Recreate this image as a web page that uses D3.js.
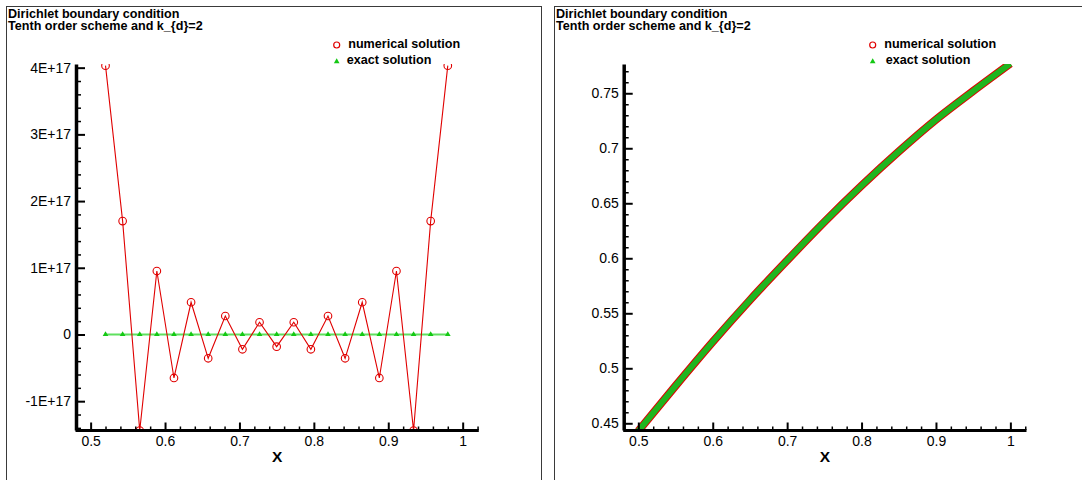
<!DOCTYPE html>
<html>
<head>
<meta charset="utf-8">
<script src="https://cdn.jsdelivr.net/npm/d3@7"></script>
<style>
  html, body { margin: 0; padding: 0; background: #fff; }
  svg { display: block; font-family: "Liberation Sans", Arial, sans-serif; }
</style>
</head>
<body>
<svg id="chart" width="1082" height="480"></svg>
<script>
// Grid points of the coarse run (left panel)
const gridX = [0.52, 0.543, 0.566, 0.589, 0.612, 0.635, 0.658, 0.681, 0.704, 0.727, 0.75,
               0.773, 0.796, 0.819, 0.842, 0.865, 0.888, 0.911, 0.934, 0.957, 0.98];
// Numerical solution on the coarse grid
const numericalCoarse = [4.03e17, 1.70e17, -1.44e17, 0.952e17, -0.652e17, 0.483e17, -0.357e17,
                         0.277e17, -0.222e17, 0.183e17, -0.183e17, 0.183e17, -0.222e17, 0.277e17,
                         -0.357e17, 0.483e17, -0.652e17, 0.952e17, -1.44e17, 1.70e17, 4.03e17];
// Exact solution on the coarse grid
const exactCoarse = [0.459, 0.476, 0.495, 0.512, 0.530, 0.547, 0.564, 0.580, 0.597, 0.613, 0.629,
                     0.644, 0.659, 0.674, 0.688, 0.702, 0.716, 0.729, 0.742, 0.754, 0.766];

// Fine run (right panel)
const fineX = [0.50, 0.55, 0.60, 0.65, 0.70, 0.75, 0.80, 0.85, 0.90, 0.95, 1.00];
const numericalFine = [0.443, 0.484, 0.524, 0.562, 0.598, 0.633, 0.666, 0.697, 0.726, 0.752, 0.777];
const exactFine = [0.443, 0.484, 0.524, 0.562, 0.598, 0.633, 0.666, 0.697, 0.726, 0.752, 0.777];

// Tick values and labels
const xTicks = [0.5, 0.6, 0.7, 0.8, 0.9, 1.0];
const xTickLabels = ["0.5", "0.6", "0.7", "0.8", "0.9", "1"];
const yTicksLeft = [-1e17, 0, 1e17, 2e17, 3e17, 4e17];
const yTickLabelsLeft = ["-1E+17", "0", "1E+17", "2E+17", "3E+17", "4E+17"];
const yTicksRight = [0.45, 0.5, 0.55, 0.6, 0.65, 0.7, 0.75];
const yTickLabelsRight = ["0.45", "0.5", "0.55", "0.6", "0.65", "0.7", "0.75"];

const titleLines = ["Dirichlet boundary condition", "Tenth order scheme and k_{d}=2"];
const legendNames = ["numerical solution", "exact solution"];

const RED = "#e00000";
const GREEN_LINE = "#5fe05f";
const GREEN_MARK = "#14c814";
const GREEN_BAND = "#1fb51f";

const svg = d3.select("#chart");

function minorTicks(domain, step) {
  const out = [];
  const start = Math.ceil(domain[0] / step - 1e-9);
  const end = Math.floor(domain[1] / step + 1e-9);
  for (let i = start; i <= end; i++) out.push(+(i * step).toPrecision(12));
  return out;
}

function drawPanel(opts) {
  const g = svg.append("g");
  // panel frame
  g.append("rect")
    .attr("x", opts.frame[0] + 0.5).attr("y", opts.frame[1] + 0.5)
    .attr("width", opts.frame[2]).attr("height", opts.frame[3])
    .attr("fill", "none").attr("stroke", "#3a3a3a").attr("stroke-width", 1);

  // titles
  titleLines.forEach((t, i) => {
    g.append("text")
      .attr("x", opts.frame[0] + 2).attr("y", 18 + i * 12)
      .attr("font-size", 12.6).attr("font-weight", "bold").attr("fill", "#000")
      .text(t);
  });

  const x = d3.scaleLinear().domain([0.479, 1.021]).range([opts.left, opts.right]);
  const y = d3.scaleLinear().domain(opts.yDomain).range([430, 64]);

  const clipId = "clip" + opts.id;
  svg.append("defs").append("clipPath").attr("id", clipId)
    .append("rect").attr("x", opts.left).attr("y", 64)
    .attr("width", opts.right - opts.left).attr("height", 430 - 64);

  const plot = g.append("g").attr("clip-path", `url(#${clipId})`);
  opts.drawData(plot, x, y);

  // x axis: minor ticks
  const xMinor = minorTicks(x.domain(), 0.02).filter(v => !xTicks.some(t => Math.abs(t - v) < 1e-9));
  const gx = g.append("g").attr("transform", "translate(0,430)");
  gx.call(d3.axisBottom(x).tickValues(xMinor).tickSize(-3.5).tickSizeOuter(0).tickFormat(""))
    .call(a => a.selectAll(".tick line").attr("stroke", "#000").attr("stroke-width", 1.5))
    .call(a => a.select(".domain").remove());
  const gxMaj = g.append("g").attr("transform", "translate(0,430)");
  gxMaj.call(d3.axisBottom(x).tickValues(xTicks).tickSize(-7.5).tickSizeOuter(0).tickPadding(6.5)
      .tickFormat((d, i) => xTickLabels[i]))
    .call(a => a.selectAll(".tick line").attr("stroke", "#000").attr("stroke-width", 2))
    .call(a => a.selectAll(".tick text").attr("font-size", 14).attr("fill", "#000")
      .attr("font-family", "Liberation Sans, Arial, sans-serif"))
    .call(a => a.select(".domain").attr("stroke", "#000").attr("stroke-width", 3));

  // y axis
  const yMinor = minorTicks(y.domain(), opts.yMinorStep)
    .filter(v => !opts.yTicks.some(t => Math.abs(t - v) < opts.yMinorStep * 1e-6));
  const gy = g.append("g").attr("transform", `translate(${opts.left + 1},0)`);
  gy.call(d3.axisLeft(y).tickValues(yMinor).tickSize(-5).tickSizeOuter(0).tickFormat(""))
    .call(a => a.selectAll(".tick line").attr("stroke", "#000").attr("stroke-width", 1.5))
    .call(a => a.select(".domain").remove());
  const gyMaj = g.append("g").attr("transform", `translate(${opts.left + 1},0)`);
  gyMaj.call(d3.axisLeft(y).tickValues(opts.yTicks).tickSize(-9).tickSizeOuter(0).tickPadding(5)
      .tickFormat((d, i) => opts.yLabels[i]))
    .call(a => a.selectAll(".tick line").attr("stroke", "#000").attr("stroke-width", 2))
    .call(a => a.selectAll(".tick text").attr("font-size", 14).attr("fill", "#000")
      .attr("font-family", "Liberation Sans, Arial, sans-serif"))
    .call(a => a.select(".domain").attr("stroke", "#000").attr("stroke-width", 3.5));

  // x axis title
  g.append("text")
    .attr("x", (opts.left + opts.right) / 2 + 0.5).attr("y", 462)
    .attr("text-anchor", "middle").attr("font-size", 15.5).attr("font-weight", "bold")
    .text("X");

  // legend
  const lg = g.append("g");
  lg.append("circle").attr("cx", opts.legendX).attr("cy", 45)
    .attr("r", 3).attr("fill", "none").attr("stroke", RED).attr("stroke-width", 1.2);
  lg.append("text").attr("x", opts.legendX + 11.5).attr("y", 47.5)
    .attr("font-size", 12.6).attr("font-weight", "bold").text(legendNames[0]);
  lg.append("path").attr("d", d3.symbol(d3.symbolTriangle, 14)())
    .attr("transform", `translate(${opts.legendX},61.5)`).attr("fill", GREEN_MARK);
  lg.append("text").attr("x", opts.legendX + opts.legendGap2).attr("y", 63.5)
    .attr("font-size", 12.6).attr("font-weight", "bold").text(legendNames[1]);
}

// Left panel: coarse run
drawPanel({
  id: "L",
  frame: [6, 6, 535, 480],
  left: 75, right: 478.3,
  yDomain: [-1.432e17, 4.055e17],
  yTicks: yTicksLeft, yLabels: yTickLabelsLeft, yMinorStep: 2e16,
  legendX: 336.7, legendGap2: 10,
  drawData: (plot, x, y) => {
    const exactPts = gridX.map((v, i) => [v, exactCoarse[i]]);
    const numPts = gridX.map((v, i) => [v, numericalCoarse[i]]);
    const line = d3.line().x(d => x(d[0])).y(d => y(d[1]));
    plot.append("path").attr("d", line(exactPts)).attr("fill", "none")
      .attr("stroke", GREEN_LINE).attr("stroke-width", 2);
    plot.selectAll(".tri").data(exactPts).join("path")
      .attr("d", d3.symbol(d3.symbolTriangle, 14)())
      .attr("transform", d => `translate(${x(d[0])},${y(d[1])})`)
      .attr("fill", GREEN_MARK);
    plot.append("path").attr("d", line(numPts)).attr("fill", "none")
      .attr("stroke", RED).attr("stroke-width", 1.1);
    plot.selectAll(".circ").data(numPts).join("circle")
      .attr("cx", d => x(d[0])).attr("cy", d => y(d[1])).attr("r", 3.8)
      .attr("fill", "none").attr("stroke", RED).attr("stroke-width", 1.1);
  }
});

// Right panel: fine run
drawPanel({
  id: "R",
  frame: [554, 6, 540, 480],
  left: 622.7, right: 1026,
  yDomain: [0.4439, 0.7766],
  yTicks: yTicksRight, yLabels: yTickLabelsRight, yMinorStep: 0.01,
  legendX: 872.7, legendGap2: 13,
  drawData: (plot, x, y) => {
    const numPts = fineX.map((v, i) => [v, numericalFine[i]]);
    const exactPts = fineX.map((v, i) => [v, exactFine[i]]);
    const line = d3.line().x(d => x(d[0])).y(d => y(d[1])).curve(d3.curveMonotoneX);
    plot.append("path").attr("d", line(numPts)).attr("fill", "none")
      .attr("stroke", RED).attr("stroke-width", 8);
    plot.append("path").attr("d", line(exactPts)).attr("fill", "none")
      .attr("stroke", GREEN_BAND).attr("stroke-width", 6);
  }
});
</script>
</body>
</html>
